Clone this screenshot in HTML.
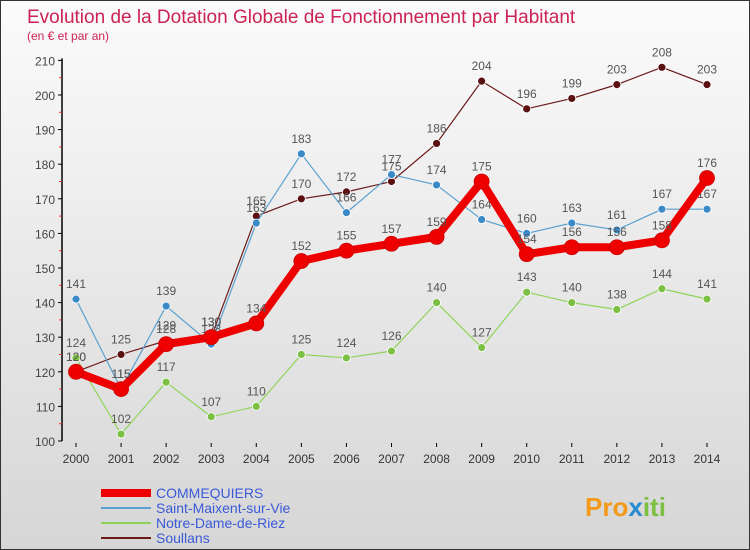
<!DOCTYPE html>
<html><head><meta charset="utf-8"><style>
body{margin:0}
#wrap{width:750px;height:550px;position:relative;background:linear-gradient(#fbfbfb,#d6d6d6);box-sizing:border-box;border:1px solid #333;overflow:hidden;font-family:"Liberation Sans",sans-serif}
</style></head><body>
<div id="wrap">
<svg id="svg" width="750" height="550" xmlns="http://www.w3.org/2000/svg">
<text x="26" y="22" font-size="19" fill="#cc2255">Evolution de la Dotation Globale de Fonctionnement par Habitant</text>
<text x="26" y="39" font-size="12" fill="#cc2255">(en € et par an)</text>
<g id="axes"></g><g id="series"></g><g id="legend"></g>
<text x="584" y="515" font-size="26" font-weight="bold" fill="#f39a1c">Pro<tspan fill="#2a8ad0">x</tspan><tspan fill="#7bc043">iti</tspan></text>
</svg></div>
<script>
const years=[2000,2001,2002,2003,2004,2005,2006,2007,2008,2009,2010,2011,2012,2013,2014];
const yTicks=[100,110,120,130,140,150,160,170,180,190,200,210];
const commequiers=[120,115,128,130,134,152,155,157,159,175,154,156,156,158,176];
const saintMaixent=[141,115,139,128,163,183,166,177,174,164,160,163,161,167,167];
const notreDame=[124,102,117,107,110,125,124,126,140,127,143,140,138,144,141];
const soullans=[120,125,129,130,165,170,172,175,186,204,196,199,203,208,203];
const seriesNames=["COMMEQUIERS","Saint-Maixent-sur-Vie","Notre-Dame-de-Riez","Soullans"];
const NS="http://www.w3.org/2000/svg";
const xs=i=>75+i*(631/14);
const ys=v=>440-(v-100)*3.46;
function mk(t,a,p){const e=document.createElementNS(NS,t);for(const k in a)e.setAttribute(k,a[k]);p.appendChild(e);return e;}
const ax=document.getElementById('axes');
let e=mk('line',{x1:61,y1:ys(210)-2,x2:61,y2:440,stroke:'#000','stroke-width':1.5},ax);

yTicks.forEach(v=>{mk('line',{x1:57,x2:61,y1:ys(v),y2:ys(v),stroke:'#000'},ax);
 if(v<210)mk('line',{x1:58,x2:61,y1:ys(v+5),y2:ys(v+5),stroke:'#e33'},ax);
 const t=mk('text',{x:54,y:ys(v)+5,'font-size':12,fill:'#444','text-anchor':'end'},ax);t.textContent=v;
 });
years.forEach((y,i)=>{mk('line',{x1:xs(i),x2:xs(i),y1:442,y2:446,stroke:'#000'},ax);
 const t=mk('text',{x:xs(i),y:462,'font-size':12,fill:'#333','text-anchor':'middle'},ax);t.textContent=y;
 });
const sg=document.getElementById('series');
const defs=[[soullans,'#6b1a1a','#5a1010',1.2,4,'soullans'],[notreDame,'#8fd45a','#7bc043',1.2,4,'notre-dame-de-riez'],[saintMaixent,'#5aa0d0','#3a8ac8',1.2,4,'saint-maixent-sur-vie'],[commequiers,'#ee0000','#ee0000',8,7.5,'commequiers']];
defs.forEach(([d,lc,pc,w,r,n])=>{
 const g=mk('g',{},sg);
 const p=mk('polyline',{points:d.map((v,i)=>xs(i)+','+ys(v)).join(' '),fill:'none',stroke:lc,'stroke-width':w,'stroke-linejoin':'round'},g);
 
 d.forEach((v,i)=>{const c=mk('circle',{cx:xs(i),cy:ys(v),r:r,fill:pc,stroke:n=='commequiers'?'#c00':'#fff','stroke-width':0.8},g);
  
  const t=mk('text',{x:xs(i),y:ys(v)-11,'font-size':12,fill:'#555','text-anchor':'middle'},g);t.textContent=v;
  });
});
const lg=document.getElementById('legend');
const lcol=['#ee0000','#5aa0d0','#8fd45a','#6b1a1a'],lw=[8,2,2,2];
seriesNames.forEach((s,i)=>{const y=492+i*15;
 const g=mk('g',{},lg);
 mk('line',{x1:100,x2:150,y1:y,y2:y,stroke:lcol[i],'stroke-width':lw[i]},g);
 const t=mk('text',{x:155,y:y+5,'font-size':14,fill:'#3a5ad8'},g);t.textContent=s;});
</script>
</body></html>
